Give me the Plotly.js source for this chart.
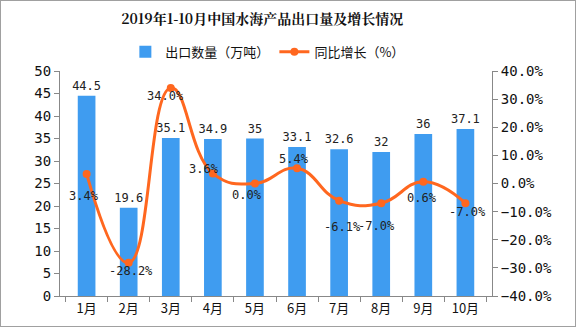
<!DOCTYPE html>
<html><head><meta charset="utf-8">
<script src="https://cdn.plot.ly/plotly-3.0.1.min.js"></script>
<style>html,body{margin:0;padding:0;background:#fff}#c{width:574px;height:325px;border:1px solid #a0a0a0}</style>
</head><body><div id="c"></div>
<script>
const months = ['1月','2月','3月','4月','5月','6月','7月','8月','9月','10月'];
const exportVolume = [44.5, 19.6, 35.1, 34.9, 35, 33.1, 32.6, 32, 36, 37.1];
const growthRate = [3.4, -28.2, 34.0, 3.6, 0.0, 5.4, -6.1, -7.0, 0.6, -7.0];
const growthLabels = ['3.4%','-28.2%','34.0%','3.6%','0.0%','5.4%','-6.1%','-7.0%','0.6%','-7.0%'];
// label pixel offsets (style only)
const labelDx = [-3, 2, -5, -9, -8, -3, 3, -5, -1, 2];
const labelDy = [22, 8, 8, -4, 11, -9, 26, 23, 16, 9];

const monoFont = 'DejaVu Sans Mono, monospace';
const bars = {
  type: 'bar', x: months, y: exportVolume, name: '出口数量（万吨）',
  marker: {color: '#3F9CF0'}, width: 0.42,
  text: exportVolume.map(String), textposition: 'outside', cliponaxis: false, constraintext: 'none',
  textfont: {family: monoFont, size: 12, color: '#222'}
};
const line = {
  type: 'scatter', mode: 'lines+markers', x: months, y: growthRate, yaxis: 'y2',
  name: '同比增长（%）', line: {color: '#FF671F', width: 3, shape: 'spline', smoothing: 1.3},
  marker: {color: '#FF671F', size: 8}
};
const annotations = months.map((m, i) => ({
  x: m, y: growthRate[i], yref: 'y2', text: growthLabels[i], showarrow: false,
  xshift: labelDx[i], yshift: -labelDy[i],
  font: {family: monoFont, size: 12, color: '#222'}
}));
const layout = {
  width: 574, height: 325,
  margin: {l: 59, r: 83, t: 70, b: 30},
  paper_bgcolor: '#fff', plot_bgcolor: '#fff',
  title: {text: '<b>2019年1-10月中国水海产品出口量及增长情况</b>', x: 0.455, xanchor: 'center', y: 0.945, yanchor: 'middle',
    font: {family: 'Noto Serif CJK SC, Noto Sans CJK SC', size: 14, color: '#111'}},
  showlegend: true,
  legend: {orientation: 'h', x: 0.48, xanchor: 'center', y: 1.085, yanchor: 'middle',
    font: {family: 'Noto Sans CJK SC', size: 13, color: '#111'}, traceorder: 'normal', itemwidth: 30},
  xaxis: {showline: true, linecolor: '#888', linewidth: 1, ticks: 'outside', ticklen: 5, tickcolor: '#888',
    tickson: 'boundaries', showgrid: false, tickfont: {family: 'Noto Sans CJK SC', size: 13, color: '#111'}},
  yaxis: {range: [0, 50], dtick: 5, showline: true, linecolor: '#888', linewidth: 1, ticks: 'outside', ticklen: 5,
    tickcolor: '#888', showgrid: false, zeroline: false, tickfont: {family: monoFont, size: 14, color: '#111'}},
  yaxis2: {range: [-40, 40], dtick: 10, overlaying: 'y', side: 'right', showline: true, linecolor: '#888', linewidth: 1,
    ticks: 'outside', ticklen: 5, tickcolor: '#888', showgrid: false, zeroline: false,
    tickformat: '.1f', ticksuffix: '%', tickfont: {family: monoFont, size: 14, color: '#111'}},
  annotations: annotations
};
Plotly.newPlot('c', [bars, line], layout, {displayModeBar: false, staticPlot: true});
</script></body></html>
